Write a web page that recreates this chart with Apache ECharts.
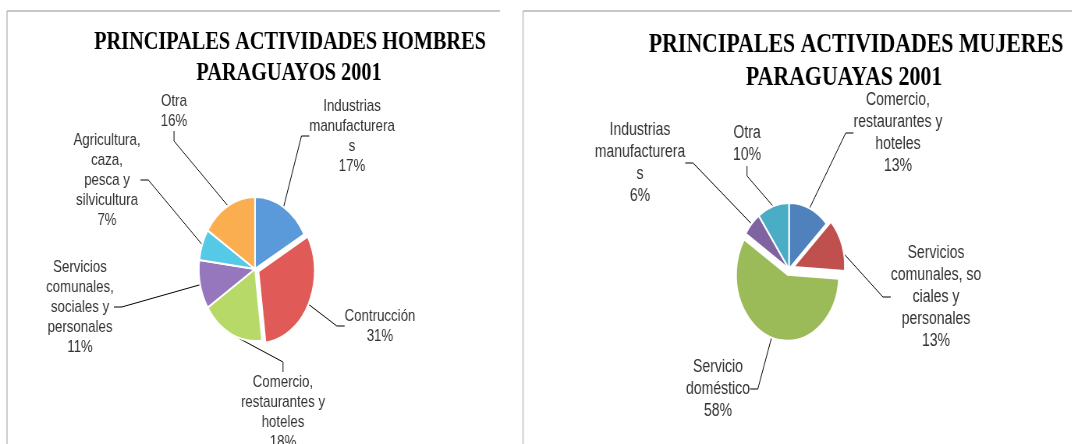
<!DOCTYPE html>
<html>
<head>
<meta charset="utf-8">
<script src="https://cdn.jsdelivr.net/npm/echarts@6/dist/echarts.min.js"></script>
<style>
  html, body { margin: 0; padding: 0; background: #fff; overflow: hidden; }
  #wrap { width: 1072px; height: 444px; overflow: hidden; }
  /* the original picture is squeezed horizontally (pies are ellipses), so draw wide and squeeze */
  #chart { width: 1374px; height: 444px; transform: scaleX(0.78); transform-origin: 0 0; }
</style>
</head>
<body>
<div id="wrap"><div id="chart"></div></div>
<script>
// hombres
const menNames = [
  'Industrias\nmanufacturera\ns',
  'Contrucción',
  'Comercio,\nrestaurantes y\nhoteles',
  'Servicios\ncomunales,\nsociales y\npersonales',
  'Agricultura,\ncaza,\npesca y\nsilvicultura',
  'Otra'
]
const menValues = [17, 31, 18, 11, 7, 16]

// mujeres
const womenNames = [
  'Comercio,\nrestaurantes y\nhoteles',
  'Servicios\ncomunales, so\nciales y\npersonales',
  'Servicio\ndoméstico',
  'Industrias\nmanufacturera\ns',
  'Otra'
]
const womenValues = [13, 13, 58, 6, 10]

const titles = [
  ['PRINCIPALES ACTIVIDADES HOMBRES', 'PARAGUAYOS 2001'],
  ['PRINCIPALES ACTIVIDADES MUJERES', 'PARAGUAYAS 2001']
]

const SX = 0.78
const fx = x => x / SX

const menColors = ['#5A9ADB', '#E05B57', '#B7D968', '#9677BD', '#56C9E6', '#FBAE50']
const womenColors = ['#4F81BD', '#C0504D', '#9BBB59', '#8064A2', '#4BACC6']

// label centres, in final picture pixels
const menLabelPos = [[352, 136], [380, 326], [283, 412], [80, 307], [107, 180], [174, 111]]
const womenLabelPos = [[898, 133], [936, 297], [718, 389], [640, 163], [747, 144]]

const chart = echarts.init(document.getElementById('chart'))

// slices (some pulled out a little, like the original)
function pieSlices(names, values, colors, opts) {
  return {
    type: 'pie',
    center: [fx(opts.cx), opts.cy],
    radius: opts.r,
    startAngle: 90,
    animation: false,
    selectedMode: 'multiple',
    selectedOffset: opts.offset,
    itemStyle: { borderColor: '#fff', borderWidth: 2 },
    label: { show: false },
    labelLine: { show: false },
    emphasis: { disabled: true },
    data: names.map((n, i) => ({
      name: n,
      value: values[i],
      selected: opts.selected.indexOf(i) >= 0,
      itemStyle: { color: colors[i] }
    }))
  }
}

// same pie, invisible, only carries the labels and leader lines
function pieLabels(names, values, labelPos, opts) {
  return {
    type: 'pie',
    center: [fx(opts.cx), opts.cy],
    radius: opts.r,
    startAngle: 90,
    animation: false,
    silent: true,
    selectedMode: false,
    itemStyle: { color: 'rgba(0,0,0,0)', borderWidth: 0 },
    label: {
      show: true,
      position: 'outside',
      formatter: '{b}\n{c}%',
      fontFamily: 'Liberation Sans',
      fontSize: opts.fontSize,
      lineHeight: opts.lineHeight,
      color: '#333',
      align: 'center'
    },
    labelLine: { show: true, length: 20, length2: 10, lineStyle: { color: '#000', width: 1 } },
    labelLayout: function (p) {
      const pos = labelPos[p.dataIndex]
      return { x: fx(pos[0]), y: pos[1], align: 'center', verticalAlign: 'middle', hideOverlap: false }
    },
    emphasis: { disabled: true },
    data: names.map((n, i) => ({ name: n, value: values[i] }))
  }
}

function titleText(txt, x, y, size) {
  return {
    type: 'text',
    x: fx(x),
    y: y,
    style: {
      text: txt,
      align: 'center',
      verticalAlign: 'middle',
      fontFamily: 'Liberation Serif',
      fontWeight: 'bold',
      fontSize: size,
      fill: '#000'
    }
  }
}

function line(x1, y1, x2, y2) {
  return {
    type: 'line',
    shape: { x1: fx(x1), y1: y1, x2: fx(x2), y2: y2 },
    style: { stroke: '#b5b5b5', lineWidth: 1.3 }
  }
}

const menOpts = { cx: 255, cy: 269, r: 72, offset: 5, selected: [1], fontSize: 17, lineHeight: 20 }
const womenOpts = { cx: 789, cy: 269, r: 66, offset: 6, selected: [1, 2], fontSize: 18, lineHeight: 22 }

chart.setOption({
  backgroundColor: '#fff',
  graphic: [
    line(7, 11, 500, 11),
    line(7, 11, 7, 444),
    line(523, 11, 1072, 11),
    line(523, 11, 523, 444),
    titleText(titles[0][0], 290, 42, 26),
    titleText(titles[0][1], 289, 73, 26),
    titleText(titles[1][0], 856, 45, 28),
    titleText(titles[1][1], 844, 78, 28)
  ],
  series: [
    pieSlices(menNames, menValues, menColors, menOpts),
    pieLabels(menNames, menValues, menLabelPos, menOpts),
    pieSlices(womenNames, womenValues, womenColors, womenOpts),
    pieLabels(womenNames, womenValues, womenLabelPos, womenOpts)
  ]
})
</script>
</body>
</html>
